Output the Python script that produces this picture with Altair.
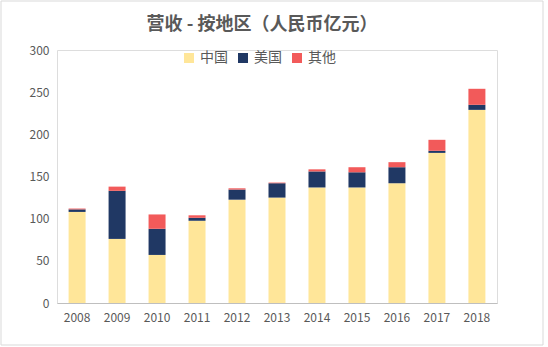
import altair as alt
import pandas as pd

years = ["2008", "2009", "2010", "2011", "2012", "2013", "2014", "2015", "2016", "2017", "2018"]
china = [108, 76, 57, 97.5, 122.5, 125, 137, 137, 142, 178, 229]
usa = [3, 57, 31, 3.5, 12, 17, 19, 18, 19, 2.5, 6]
other = [1, 5, 17, 3, 1.5, 0.8, 2.5, 6, 6, 13, 19]
regions = ["中国", "美国", "其他"]
colors = ["#FFE699", "#203864", "#F25A5A"]

rows = []
for i, y in enumerate(years):
    for k, (name, vals) in enumerate(zip(regions, [china, usa, other])):
        rows.append({"year": y, "region": name, "value": vals[i], "ord": k})
df = pd.DataFrame(rows)

FONT = "Noto Sans CJK SC"

bars = alt.Chart(df).mark_bar().encode(
    x=alt.X("year:N", sort=years, title=None,
            scale=alt.Scale(paddingInner=0.575, paddingOuter=0.29),
            axis=alt.Axis(labelAngle=0, ticks=False, domainColor="#BFBFBF",
                          labelColor="#595959", labelFontSize=12, labelFont=FONT,
                          labelPadding=9)),
    y=alt.Y("value:Q", title=None, stack="zero",
            scale=alt.Scale(domain=[0, 300]),
            axis=alt.Axis(values=[0, 50, 100, 150, 200, 250, 300], grid=False,
                          domain=False, ticks=False, labelColor="#595959",
                          labelFontSize=12, labelFont=FONT, labelPadding=8)),
    color=alt.Color("region:N", sort=regions,
                    scale=alt.Scale(domain=regions, range=colors),
                    legend=alt.Legend(title=None, orient="none", direction="horizontal",
                                      legendX=125, legendY=1, symbolType="square",
                                      symbolSize=100, symbolStrokeWidth=0,
                                      labelFontSize=14, labelFont=FONT,
                                      labelColor="#595959", labelOffset=4,
                                      columnPadding=8)),
    order=alt.Order("ord:Q", sort="ascending"),
)

frame = alt.Chart(pd.DataFrame({"a": [0]})).mark_rect(
    fill=None, stroke="#D9D9D9", strokeWidth=1
).encode(
    x=alt.value(-56), x2=alt.value(486), y=alt.value(-49), y2=alt.value(295)
)

chart = alt.layer(frame, bars).properties(
    width=440, height=253,
    title=alt.TitleParams("营收 - 按地区（人民币亿元）", fontSize=18, font=FONT,
                          fontWeight="bold", color="#595959", anchor="middle",
                          frame="group", dx=-15, offset=-33),
    autosize=alt.AutoSizeParams(type="none"),
    padding={"left": 57, "top": 50, "right": 51, "bottom": 44},
).configure_view(stroke=None).configure(background="white")

chart.save("out.html", embed_options={"renderer": "svg", "actions": False})
